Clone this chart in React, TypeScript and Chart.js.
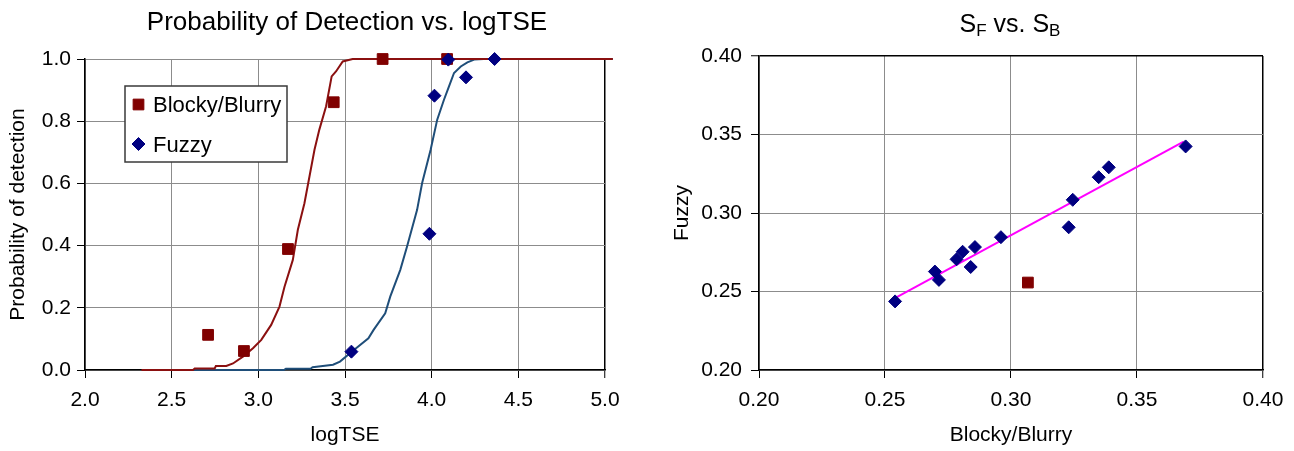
import React, { useEffect, useRef } from 'react';
import { Chart, registerables } from 'chart.js';

Chart.register(...registerables);

const FONT_FAMILY = "'Liberation Sans', Arial, Helvetica, sans-serif";

// ---------------- Left chart: Probability of detection vs logTSE ----------------
const leftTitle = 'Probability of Detection vs. logTSE';
const leftXTitle = 'logTSE';
const leftYTitle = 'Probability of detection';
const leftXTicks = [2.0, 2.5, 3.0, 3.5, 4.0, 4.5, 5.0];
const leftYTicks = [0.0, 0.2, 0.4, 0.6, 0.8, 1.0];

const blockyLabel = 'Blocky/Blurry';
const fuzzyLabel = 'Fuzzy';

const blockyLogTSE = [2.71, 2.917, 3.171, 3.435, 3.717, 4.089];
const blockyDetect = [0.113, 0.061, 0.389, 0.861, 1.0, 1.0];
const fuzzyLogTSE = [3.537, 3.987, 4.016, 4.096, 4.198, 4.363];
const fuzzyDetect = [0.059, 0.438, 0.882, 0.998, 0.941, 1.0];

const blockyFitX = [2.326, 2.623, 2.633, 2.748, 2.755, 2.815, 2.854, 2.911, 2.969, 3.017, 3.074, 3.122, 3.151, 3.199, 3.228, 3.266, 3.295, 3.324, 3.352, 3.391, 3.423, 3.448, 3.487, 3.544, 5.045];
const blockyFitY = [0, 0, 0.005, 0.005, 0.013, 0.013, 0.021, 0.043, 0.07, 0.097, 0.145, 0.204, 0.268, 0.354, 0.451, 0.536, 0.622, 0.708, 0.773, 0.848, 0.944, 0.96, 0.992, 1.0, 1.0];
const fuzzyFitX = [2.33, 3.147, 3.159, 3.301, 3.313, 3.372, 3.431, 3.471, 3.539, 3.635, 3.665, 3.732, 3.761, 3.819, 3.858, 3.916, 3.945, 3.994, 4.032, 4.071, 4.1, 4.129, 4.168, 4.206, 4.245, 4.3, 5.045];
const fuzzyFitY = [0, 0, 0.004, 0.004, 0.009, 0.013, 0.017, 0.027, 0.059, 0.102, 0.129, 0.182, 0.236, 0.322, 0.397, 0.515, 0.601, 0.708, 0.805, 0.869, 0.912, 0.955, 0.976, 0.989, 0.998, 1.0, 1.0];

// ---------------- Right chart: S_F vs S_B ----------------
const rightTitleParts = [
  { text: 'S', sub: false },
  { text: 'F', sub: true },
  { text: ' vs. ', sub: false },
  { text: 'S', sub: false },
  { text: 'B', sub: true },
];
const rightXTitle = 'Blocky/Blurry';
const rightYTitle = 'Fuzzy';
const rightTicks = [0.2, 0.25, 0.3, 0.35, 0.4];

const sbValues = [0.254, 0.2698, 0.2714, 0.2784, 0.2808, 0.284, 0.2857, 0.296, 0.3229, 0.3245, 0.3348, 0.3388, 0.3693];
const sfValues = [0.2437, 0.2627, 0.2574, 0.2705, 0.2753, 0.2656, 0.2783, 0.2846, 0.2909, 0.3084, 0.3228, 0.3291, 0.3424];
const outlierSB = [0.3067];
const outlierSF = [0.2557];
const trendSB = [0.2545, 0.3685];
const trendSF = [0.2463, 0.3455];

// ---------------- helpers ----------------
const RED = '#800000';
const NAVY = '#000080';
const RED_LINE = '#8b1010';
const BLUE_LINE = '#1f4e79';
const GRID = '#8c8c8c';

const pts = (xs: number[], ys: number[]) => xs.map((x, i) => ({ x, y: ys[i] }));

function drawMarker(ctx: CanvasRenderingContext2D, style: string, x: number, y: number, r: number, color: string) {
  ctx.beginPath();
  if (style === 'rect') {
    const s = r * Math.SQRT1_2;
    ctx.rect(x - s, y - s, 2 * s, 2 * s);
  } else {
    ctx.moveTo(x - r, y);
    ctx.lineTo(x, y - r);
    ctx.lineTo(x + r, y);
    ctx.lineTo(x, y + r);
    ctx.closePath();
  }
  ctx.fillStyle = color;
  ctx.fill();
  ctx.lineWidth = 1;
  ctx.strokeStyle = color;
  ctx.stroke();
}

const richTitlePlugin = {
  id: 'richTitle',
  afterDraw(chart: any, _args: any, opts: any) {
    if (!opts || !opts.parts) return;
    const { ctx, chartArea } = chart;
    ctx.save();
    const widths: number[] = [];
    let total = 0;
    opts.parts.forEach((p: any) => {
      ctx.font = `${p.sub ? opts.subSize : opts.size}px ${FONT_FAMILY}`;
      const w = ctx.measureText(p.text).width;
      widths.push(w);
      total += w;
    });
    let x = (chartArea.left + chartArea.right) / 2 - total / 2 + (opts.dx || 0);
    ctx.fillStyle = '#000';
    ctx.textAlign = 'left';
    ctx.textBaseline = 'alphabetic';
    opts.parts.forEach((p: any, i: number) => {
      ctx.font = `${p.sub ? opts.subSize : opts.size}px ${FONT_FAMILY}`;
      ctx.fillText(p.text, x, opts.baseline + (p.sub ? opts.subDy : 0));
      x += widths[i];
    });
    ctx.restore();
  },
};

const boxLegendPlugin = {
  id: 'boxLegend',
  afterDatasetsDraw(chart: any, _args: any, opts: any) {
    if (!opts || !opts.items) return;
    const { ctx, chartArea } = chart;
    const x0 = chartArea.left + opts.dx;
    const y0 = chartArea.top + opts.dy;
    ctx.save();
    ctx.fillStyle = '#fff';
    ctx.fillRect(x0, y0, opts.w, opts.h);
    ctx.strokeStyle = '#3a3a3a';
    ctx.lineWidth = 1.5;
    ctx.strokeRect(x0, y0, opts.w, opts.h);
    opts.items.forEach((label: string, i: number) => {
      const ds = chart.data.datasets.find((d: any) => d.label === label);
      if (!ds) return;
      const cy = y0 + opts.firstRow + i * opts.rowGap;
      drawMarker(ctx, ds.pointStyle, x0 + opts.markerX, cy, ds.pointRadius, ds.backgroundColor);
      ctx.fillStyle = '#000';
      ctx.font = `${opts.fontSize}px ${FONT_FAMILY}`;
      ctx.textAlign = 'left';
      ctx.textBaseline = 'alphabetic';
      ctx.fillText(label, x0 + opts.textX, cy + opts.textDy);
    });
    ctx.restore();
  },
};

function linearAxis(o: {
  ticks: number[];
  decimals: number;
  min: number;
  max: number;
  size?: number;
  tickPad: number;
  title: string;
  titlePad: any;
  edgeBlack: number[];
  horizontal: boolean;
}) {
  const isEdge = (v: number) => o.edgeBlack.some((e) => Math.abs(e - v) < 1e-9);
  return {
    type: 'linear',
    min: o.min,
    max: o.max,
    afterBuildTicks: (scale: any) => {
      scale.ticks = o.ticks.map((v) => ({ value: v }));
    },
    afterFit: (scale: any) => {
      if (o.horizontal) scale.height = o.size;
      else scale.width = o.size;
    },
    ticks: {
      color: '#000',
      font: { family: FONT_FAMILY, size: 21 },
      padding: o.tickPad,
      callback: (v: any) => Number(v).toFixed(o.decimals),
      autoSkip: false,
      maxRotation: 0,
    },
    grid: {
      color: (c: any) => (c.tick && isEdge(c.tick.value) ? '#000' : GRID),
      lineWidth: (c: any) => (c.tick && isEdge(c.tick.value) ? 1.5 : 1),
      tickColor: '#000',
      tickLength: 8,
      tickWidth: 1,
      drawTicks: true,
    },
    border: { display: true, color: '#000', width: 1.5 },
    title: {
      display: true,
      text: o.title,
      color: '#000',
      font: { family: FONT_FAMILY, size: 21 },
      padding: o.titlePad,
    },
  };
}

function leftConfig(): any {
  return {
    type: 'scatter',
    data: {
      datasets: [
        {
          label: fuzzyLabel,
          data: pts(fuzzyLogTSE, fuzzyDetect),
          pointStyle: 'rectRot',
          pointRadius: 6.5,
          backgroundColor: NAVY,
          borderColor: NAVY,
          borderWidth: 1,
          showLine: false,
          order: 1,
          clip: false,
        },
        {
          label: blockyLabel,
          data: pts(blockyLogTSE, blockyDetect),
          pointStyle: 'rect',
          pointRadius: 7.6,
          backgroundColor: RED,
          borderColor: RED,
          borderWidth: 1,
          showLine: false,
          order: 2,
          clip: false,
        },
        {
          label: 'Blocky/Blurry fit',
          data: pts(blockyFitX, blockyFitY),
          showLine: true,
          borderColor: RED_LINE,
          borderWidth: 2,
          pointRadius: 0,
          tension: 0,
          order: 3,
          clip: false,
        },
        {
          label: 'Fuzzy fit',
          data: pts(fuzzyFitX, fuzzyFitY),
          showLine: true,
          borderColor: BLUE_LINE,
          borderWidth: 2,
          pointRadius: 0,
          tension: 0,
          order: 4,
          clip: false,
        },
      ],
    },
    options: {
      animation: false,
      responsive: false,
      devicePixelRatio: 1,
      events: [],
      layout: { padding: { left: 0, right: 35, top: 59, bottom: 0 } },
      scales: {
        x: linearAxis({
          ticks: leftXTicks, decimals: 1, min: 2, max: 5, size: 81, tickPad: 10,
          title: leftXTitle, titlePad: { top: 0, bottom: 3 }, edgeBlack: [5], horizontal: true,
        }),
        y: linearAxis({
          ticks: leftYTicks, decimals: 1, min: 0, max: 1, size: 85, tickPad: 6,
          title: leftYTitle, titlePad: { top: 6, bottom: 0 }, edgeBlack: [], horizontal: false,
        }),
      },
      plugins: {
        legend: { display: false },
        tooltip: { enabled: false },
        title: { display: false },
        richTitle: {
          parts: [{ text: leftTitle, sub: false }],
          size: 26, subSize: 16, subDy: 0, baseline: 29.5, dx: 2,
        },
        boxLegend: {
          items: [blockyLabel, fuzzyLabel],
          dx: 40, dy: 27, w: 162, h: 76,
          firstRow: 18.5, rowGap: 39.5, markerX: 13.5, textX: 28, textDy: 7.5, fontSize: 22,
        },
      },
    },
    plugins: [richTitlePlugin, boxLegendPlugin],
  };
}

function rightConfig(): any {
  return {
    type: 'scatter',
    data: {
      datasets: [
        {
          label: 'Fuzzy vs Blocky/Blurry',
          data: pts(sbValues, sfValues),
          pointStyle: 'rectRot',
          pointRadius: 6.5,
          backgroundColor: NAVY,
          borderColor: NAVY,
          borderWidth: 1,
          showLine: false,
          order: 1,
          clip: false,
        },
        {
          label: 'Outlier',
          data: pts(outlierSB, outlierSF),
          pointStyle: 'rect',
          pointRadius: 7.6,
          backgroundColor: RED,
          borderColor: RED,
          borderWidth: 1,
          showLine: false,
          order: 2,
          clip: false,
        },
        {
          label: 'Linear fit',
          data: pts(trendSB, trendSF),
          showLine: true,
          borderColor: '#ff00ff',
          borderWidth: 2,
          pointRadius: 0,
          order: 3,
          clip: false,
        },
      ],
    },
    options: {
      animation: false,
      responsive: false,
      devicePixelRatio: 1,
      events: [],
      layout: { padding: { left: 0, right: 31, top: 56, bottom: 0 } },
      scales: {
        x: linearAxis({
          ticks: rightTicks, decimals: 2, min: 0.2, max: 0.4, size: 81, tickPad: 10,
          title: rightXTitle, titlePad: { top: 0, bottom: 3 }, edgeBlack: [0.4], horizontal: true,
        }),
        y: linearAxis({
          ticks: rightTicks, decimals: 2, min: 0.2, max: 0.4, size: 119, tickPad: 9,
          title: rightYTitle, titlePad: { top: 30, bottom: 0 }, edgeBlack: [0.4], horizontal: false,
        }),
      },
      plugins: {
        legend: { display: false },
        tooltip: { enabled: false },
        title: { display: false },
        richTitle: {
          parts: rightTitleParts,
          size: 25, subSize: 17, subDy: 4, baseline: 31.5, dx: -1,
        },
      },
    },
    plugins: [richTitlePlugin],
  };
}

export default function App() {
  const leftRef = useRef<HTMLCanvasElement>(null);
  const rightRef = useRef<HTMLCanvasElement>(null);

  useEffect(() => {
    const l = new Chart(leftRef.current as HTMLCanvasElement, leftConfig());
    const r = new Chart(rightRef.current as HTMLCanvasElement, rightConfig());
    return () => {
      l.destroy();
      r.destroy();
    };
  }, []);

  return (
    <div style={{ position: 'absolute', left: 0, top: 0, width: 1294, height: 451, background: '#fff' }}>
      <canvas
        ref={leftRef}
        width={640}
        height={451}
        style={{ position: 'absolute', left: 0, top: 0, width: 640, height: 451 }}
      />
      <canvas
        ref={rightRef}
        width={654}
        height={451}
        style={{ position: 'absolute', left: 640, top: 0, width: 654, height: 451 }}
      />
    </div>
  );
}
